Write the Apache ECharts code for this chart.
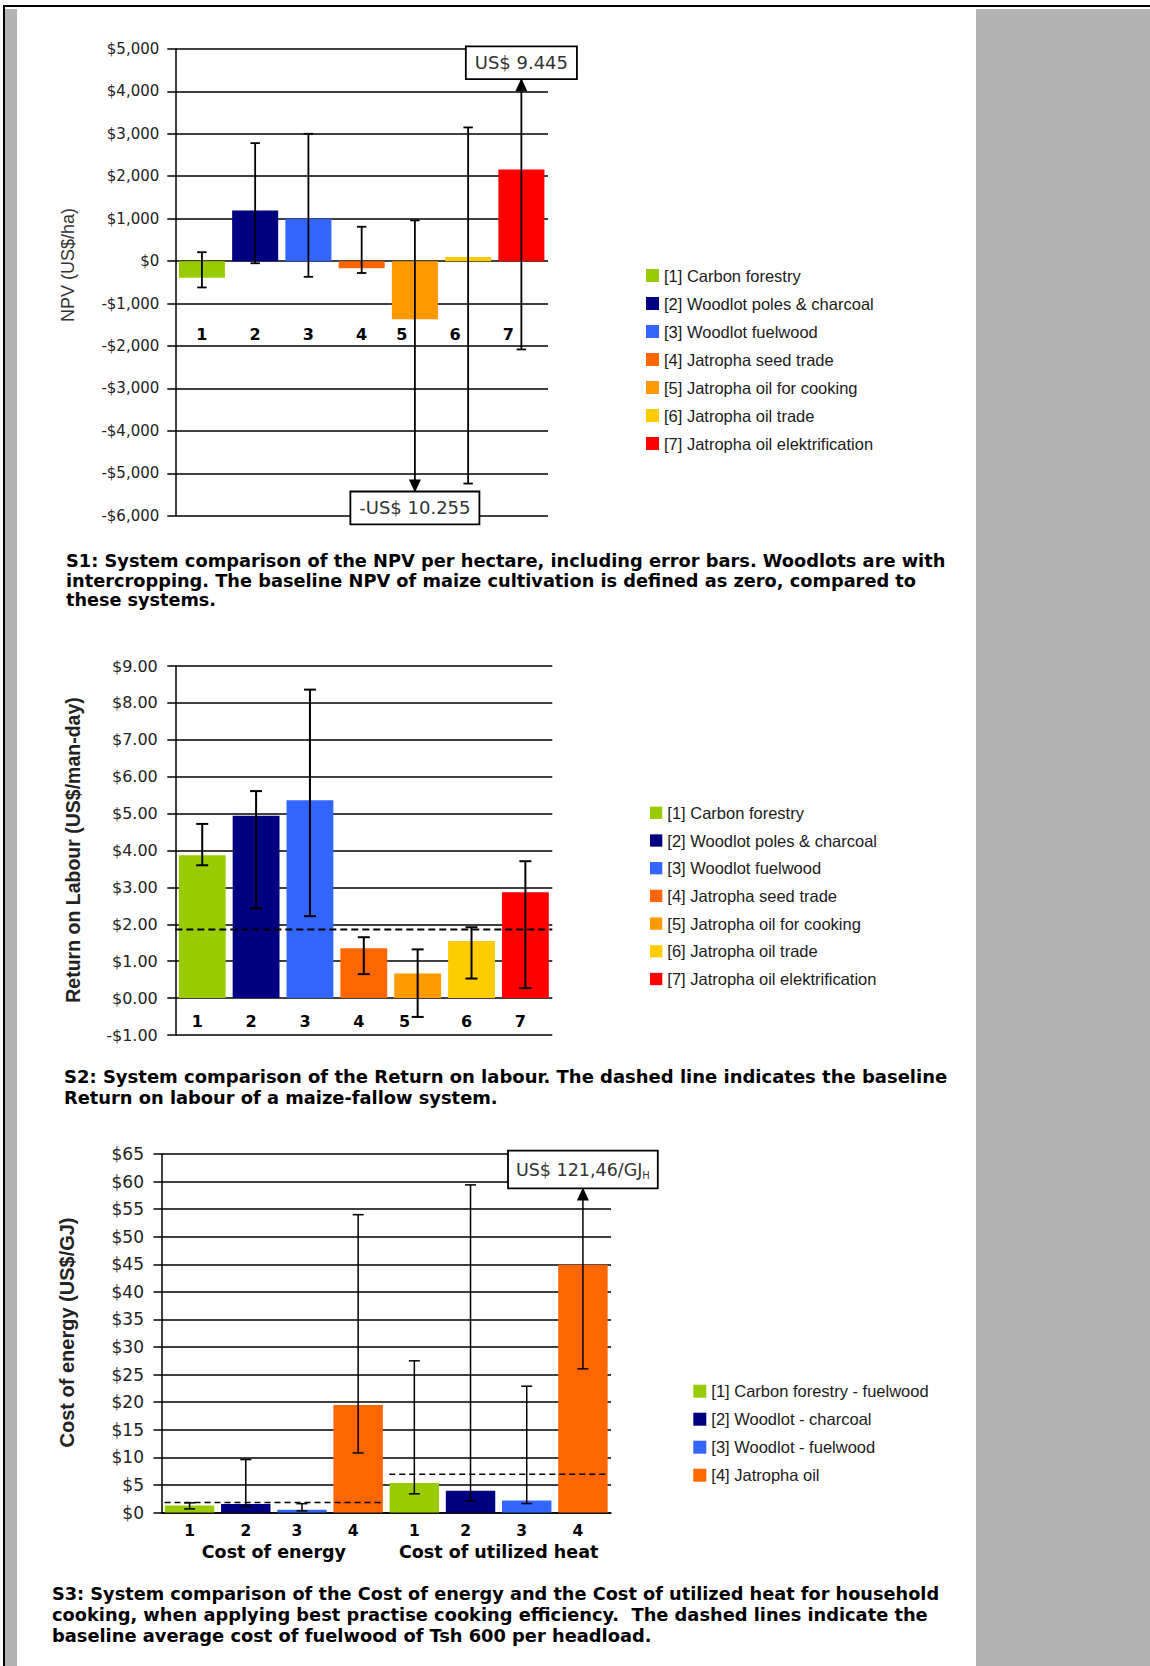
<!DOCTYPE html>
<html>
<head>
<meta charset="utf-8">
<script src="https://cdn.jsdelivr.net/npm/echarts@6/dist/echarts.min.js"></script>
<style>
html,body{margin:0;padding:0;background:#fff;}
#page{position:relative;width:1150px;height:1666px;overflow:hidden;background:#fff;}
.bk{position:absolute;background:#000;}
.gr{position:absolute;background:#b3b3b3;}
#chart{position:absolute;left:0;top:0;width:1150px;height:1666px;}
.cap{position:absolute;white-space:pre;font-family:"DejaVu Sans Condensed","DejaVu Sans",sans-serif;font-weight:bold;font-size:18.5px;line-height:20px;color:#000;transform-origin:0 0;}
</style>
</head>
<body>
<div id="page">
  <div class="bk" style="left:3px;top:5px;width:1147px;height:2px"></div>
  <div class="bk" style="left:3px;top:5px;width:2px;height:1661px"></div>
  <div class="gr" style="left:5px;top:9px;width:12px;height:1657px"></div>
  <div class="gr" style="left:976px;top:9px;width:174px;height:1657px"></div>
  <div id="chart"></div>
</div>
<script>
// ---------- DATA ----------
const npvCategories = ['1', '2', '3', '4', '5', '6', '7'];
const systemNames = ['[1] Carbon forestry', '[2] Woodlot poles & charcoal', '[3] Woodlot fuelwood',
  '[4] Jatropha seed trade', '[5] Jatropha oil for cooking', '[6] Jatropha oil trade',
  '[7] Jatropha oil elektrification'];
const npvValues = [-390, 1190, 1000, -170, -1370, 100, 2160];
const npvErrLow = [-620, -50, -370, -280, -10255, -5240, -2080];
const npvErrHigh = [210, 2780, 3000, 810, 960, 3150, 9445];
const npvAxis = { min: -6000, max: 5000, interval: 1000 };

const rolCategories = ['1', '2', '3', '4', '5', '6', '7'];
const rolValues = [3.87, 4.94, 5.36, 1.35, 0.67, 1.55, 2.87];
const rolErrLow = [3.60, 2.43, 2.22, 0.65, -0.51, 0.53, 0.27];
const rolErrHigh = [4.72, 5.61, 8.36, 1.65, 1.32, 1.92, 3.71];
const rolBaseline = [[0, 6, 1.86]];
const rolAxis = { min: -1, max: 9, interval: 1 };

const coeCategories = ['1', '2', '3', '4', '1', '2', '3', '4'];
const coeGroups = ['Cost of energy', 'Cost of utilized heat'];
const coeNames = ['[1] Carbon forestry - fuelwood', '[2] Woodlot - charcoal', '[3] Woodlot - fuelwood', '[4] Jatropha oil'];
const coeValues = [1.25, 1.55, 0.5, 19.5, 5.34, 3.94, 2.18, 44.9];
const coeErrLow = [0.65, 1.1, 0.3, 10.8, 3.38, 2.1, 1.62, 26.05];
const coeErrHigh = [1.75, 9.6, 1.6, 54.0, 27.5, 59.4, 22.9, 121.46];
const coeBaselines = [[0, 3, 1.8], [4, 7, 6.95]];
const coeAxis = { min: 0, max: 65, interval: 5 };

const systemColors = ['#99cc00', '#000080', '#3366ff', '#ff6600', '#ff9900', '#ffcc00', '#ff0000'];
const coeColors = ['#99cc00', '#000080', '#3366ff', '#ff6600'];

// ---------- CAPTIONS (layout) ----------
const captions = [
  { t: 'S1: System comparison of the NPV per hectare, including error bars. Woodlots are with', x: 65.6, b: 567.3, r: 945 },
  { t: 'intercropping. The baseline NPV of maize cultivation is defined as zero, compared to', x: 65.6, b: 587, r: 915.6 },
  { t: 'these systems.', x: 65.6, b: 606.5, r: 215.6 },
  { t: 'S2: System comparison of the Return on labour. The dashed line indicates the baseline', x: 63.8, b: 1083.2, r: 947 },
  { t: 'Return on labour of a maize-fallow system.', x: 63.8, b: 1104.5, r: 497.4 },
  { t: 'S3: System comparison of the Cost of energy and the Cost of utilized heat for household', x: 52.3, b: 1600, r: 939.4 },
  { t: 'cooking, when applying best practise cooking efficiency.  The dashed lines indicate the', x: 52.3, b: 1621.3, r: 928 },
  { t: 'baseline average cost of fuelwood of Tsh 600 per headload.', x: 52.3, b: 1642.5, r: 651.8 }
];
const page = document.getElementById('page');
captions.forEach(function (c) {
  const d = document.createElement('div');
  d.className = 'cap';
  d.textContent = c.t;
  d.style.left = c.x + 'px';
  d.style.top = (c.b - 16.3) + 'px';
  page.appendChild(d);
  const w = d.getBoundingClientRect().width;
  if (w > 0) d.style.transform = 'scaleX(' + ((c.r - c.x) / w) + ')';
});

// ---------- HELPERS ----------
function thousands(v) { return String(Math.abs(v)).replace(/\B(?=(\d{3})+(?!\d))/g, ','); }
function barSeries(names, colors, values, xIdx, yIdx, gap) {
  return names.map(function (n, k) {
    return {
      name: n, type: 'bar', xAxisIndex: xIdx, yAxisIndex: yIdx,
      barGap: '-100%', barCategoryGap: gap, silent: true, z: 2,
      itemStyle: { color: colors[k] },
      data: values.map(function (v, i) { return (i % names.length === k) ? v : '-'; })
    };
  });
}
function errRender(o) {
  return function (params, api) {
    const i = api.value(0), lo = api.value(1), hi = api.value(2);
    const cs = params.coordSys;
    const top = cs.y, bot = cs.y + cs.height;
    const x = api.coord([i, 0])[0];
    let yHi = api.coord([i, hi])[1], yLo = api.coord([i, lo])[1];
    const up = yHi < top - 0.5, down = yLo > bot + 0.5;
    if (up) yHi = top + o.upTip;
    if (down) yLo = bot - o.downTip;
    const ls = { stroke: '#000', lineWidth: o.lw };
    const ch = [{ type: 'line', shape: { x1: x, y1: yLo, x2: x, y2: yHi }, style: ls }];
    if (!up) ch.push({ type: 'line', shape: { x1: x - o.cap, y1: yHi, x2: x + o.cap, y2: yHi }, style: ls });
    if (!down) ch.push({ type: 'line', shape: { x1: x - o.cap, y1: yLo, x2: x + o.cap, y2: yLo }, style: ls });
    function box(y, va, txt) {
      return {
        type: 'text', x: x, y: y, z2: 10,
        style: Object.assign({
          text: txt, align: 'center', verticalAlign: va, fill: '#333',
          fontFamily: 'DejaVu Sans', fontSize: o.fs, lineHeight: o.lh,
          backgroundColor: '#fff', borderColor: '#000', borderWidth: 1.8, padding: o.pad
        }, o.rich ? { rich: o.rich } : {})
      };
    }
    if (up) {
      ch.push({ type: 'polygon', shape: { points: [[x, yHi], [x - 6, yHi + 13], [x + 6, yHi + 13]] }, style: { fill: '#000' } });
      ch.push(box(yHi, 'bottom', o.label(hi)));
    }
    if (down) {
      ch.push({ type: 'polygon', shape: { points: [[x, yLo], [x - 6, yLo - 13], [x + 6, yLo - 13]] }, style: { fill: '#000' } });
      ch.push(box(yLo, 'top', o.label(lo)));
    }
    return { type: 'group', children: ch };
  };
}
function baseRender(inset, lw, dash) {
  return function (params, api) {
    const s = api.value(0), e = api.value(1), v = api.value(2);
    const bw = api.size([1, 0])[0];
    const p1 = api.coord([s, v]), p2 = api.coord([e, v]);
    return {
      type: 'line',
      shape: { x1: p1[0] - bw / 2 + inset, y1: p1[1], x2: p2[0] + bw / 2 - inset, y2: p2[1] },
      style: { stroke: '#000', lineWidth: lw, lineDash: dash }
    };
  };
}
function valueAxis(gridIndex, ax, fs, margin, fmt) {
  return {
    gridIndex: gridIndex, type: 'value', min: ax.min, max: ax.max, interval: ax.interval,
    axisLine: { show: true, lineStyle: { color: '#000', width: 1.5 } },
    axisTick: { show: true, inside: false, length: 8, lineStyle: { color: '#000', width: 1.5 } },
    splitLine: { show: true, lineStyle: { color: '#000', width: 1.5 } },
    axisLabel: { margin: margin, fontFamily: 'DejaVu Sans', fontSize: fs, color: '#222', formatter: fmt }
  };
}
// nudge: label style keys per category index ('s' = small left nudge, 'l' = large left nudge)
function catAxis(gridIndex, data, offset, margin, fs, nudge) {
  return {
    gridIndex: gridIndex, type: 'category', data: data, position: 'bottom', offset: offset,
    axisLine: { show: false, onZero: false },
    axisTick: { show: false }, splitLine: { show: false },
    axisLabel: {
      interval: 0, margin: margin, fontFamily: 'DejaVu Sans', fontWeight: 'bold', fontSize: fs, color: '#000',
      formatter: function (v, i) { const k = nudge && nudge[i]; return k ? '{' + k + '|' + v + '}' : v; },
      rich: {
        s: { fontFamily: 'DejaVu Sans', fontWeight: 'bold', fontSize: fs, color: '#000', padding: [0, 10, 0, 0] },
        l: { fontFamily: 'DejaVu Sans', fontWeight: 'bold', fontSize: fs, color: '#000', padding: [0, 26, 0, 0] }
      }
    }
  };
}
function legend(names, left, top, size, gap) {
  return {
    data: names, orient: 'vertical', left: left, top: top, padding: 0,
    itemWidth: size, itemHeight: size, itemGap: gap, icon: 'rect', selectedMode: false,
    textStyle: { fontFamily: 'Liberation Sans', fontSize: 16.5, color: '#1a1a1a', lineHeight: 16 }
  };
}

// ---------- CHART ----------
const grids = [
  { left: 175.3, top: 48.9, width: 372.7, height: 466.9 },
  { left: 175.3, top: 666, width: 377, height: 369 },
  { left: 161.5, top: 1154, width: 449.5, height: 358.5 }
];
// distance from the bottom of a grid up to its zero line (layout helper)
function zeroLift(g, ax) { return g.height * (0 - ax.min) / (ax.max - ax.min); }

const chart = echarts.init(document.getElementById('chart'), null, { renderer: 'svg', width: 1150, height: 1666 });
const series = []
  .concat(barSeries(systemNames, systemColors, npvValues, 0, 0, '13.5%'))
  .concat(barSeries(systemNames, systemColors, rolValues, 1, 1, '13%'))
  .concat(barSeries(coeNames, coeColors, coeValues, 2, 2, '12%'));
series.push({
  type: 'custom', xAxisIndex: 0, yAxisIndex: 0, z: 5, clip: false, silent: true,
  encode: { x: 0, y: [1, 2] },
  data: npvErrLow.map(function (lo, i) { return [i, lo, npvErrHigh[i]]; }),
  renderItem: errRender({
    lw: 1.8, cap: 4.7, upTip: 29.4, downTip: 23.4, fs: 18, lh: 21, pad: [5, 8],
    label: function (v) { return (v < 0 ? '-' : '') + 'US$ ' + String(Math.abs(v)).replace(/\B(?=(\d{3})+(?!\d))/g, '.'); }
  })
});
series.push({
  type: 'custom', xAxisIndex: 1, yAxisIndex: 1, z: 4, clip: false, silent: true,
  encode: { x: [0, 1], y: 2 }, data: rolBaseline, renderItem: baseRender(0, 2, [7, 4])
});
series.push({
  type: 'custom', xAxisIndex: 1, yAxisIndex: 1, z: 5, clip: false, silent: true,
  encode: { x: 0, y: [1, 2] },
  data: rolErrLow.map(function (lo, i) { return [i, lo, rolErrHigh[i]]; }),
  renderItem: errRender({ lw: 2, cap: 6, upTip: 30, downTip: 24, fs: 18, lh: 21, pad: [5, 8], label: String })
});
series.push({
  type: 'custom', xAxisIndex: 2, yAxisIndex: 2, z: 4, clip: false, silent: true,
  encode: { x: [0, 1], y: 2 }, data: coeBaselines, renderItem: baseRender(3, 1.5, [6, 4])
});
series.push({
  type: 'custom', xAxisIndex: 2, yAxisIndex: 2, z: 5, clip: false, silent: true,
  encode: { x: 0, y: [1, 2] },
  data: coeErrLow.map(function (lo, i) { return [i, lo, coeErrHigh[i]]; }),
  renderItem: errRender({
    lw: 1.5, cap: 5.5, upTip: 33.5, downTip: 24, fs: 17.5, lh: 22, pad: [7, 7],
    rich: {
      a: { fontFamily: 'DejaVu Sans', fontSize: 17.5, fill: '#333', lineHeight: 22, verticalAlign: 'middle' },
      s: { fontFamily: 'DejaVu Sans', fontSize: 10, fill: '#333', lineHeight: 22, verticalAlign: 'bottom' }
    },
    label: function (v) { return '{a|US$ ' + String(v).replace('.', ',') + '/GJ}{s|H}'; }
  })
});

const z0 = zeroLift(grids[0], npvAxis), z1 = zeroLift(grids[1], rolAxis);
const coeX = catAxis(2, coeCategories, 0, 10, 15.5, { 2: 's', 3: 's', 5: 's', 6: 's', 7: 's' });
coeX.axisLine = { show: true, onZero: false, lineStyle: { color: '#000', width: 1.5 } };

chart.setOption({
  animation: false,
  backgroundColor: 'transparent',
  grid: grids.map(function (g) { return Object.assign({ containLabel: false, outerBoundsMode: 'none' }, g); }),
  xAxis: [
    catAxis(0, npvCategories, -z0, 64.9, 16, { 4: 'l', 5: 'l', 6: 'l' }),
    catAxis(1, rolCategories, -z1, 14.9, 16, { 0: 's', 1: 's', 2: 's', 3: 's', 4: 'l', 5: 's', 6: 's' }),
    coeX,
    catAxis(2, coeGroups, 0, 30.5, 17.5)
  ],
  yAxis: [
    valueAxis(0, npvAxis, 15, 16, function (v) { return (v < 0 ? '-$' : '$') + thousands(v); }),
    valueAxis(1, rolAxis, 16, 17.5, function (v) { return (v < 0 ? '-$' : '$') + Math.abs(v).toFixed(2); }),
    valueAxis(2, coeAxis, 17, 17.5, function (v) { return '$' + v; })
  ],
  legend: [
    legend(systemNames, 646, 267, 13, 11),
    legend(systemNames, 650, 804.3, 12.3, 10.7),
    legend(coeNames, 693.3, 1382.7, 13, 11)
  ],
  graphic: [
    { type: 'text', x: 68.3, y: 265, rotation: Math.PI / 2, silent: true,
      style: { text: 'NPV (US$/ha)', fontFamily: 'Liberation Sans', fontSize: 18, fill: '#333', align: 'center', verticalAlign: 'middle' } },
    { type: 'text', x: 72.7, y: 850, rotation: Math.PI / 2, silent: true,
      style: { text: 'Return on Labour (US$/man-day)', fontFamily: 'Liberation Sans', fontWeight: 'bold', fontSize: 19.5, fill: '#222', align: 'center', verticalAlign: 'middle' } },
    { type: 'text', x: 66.7, y: 1332.5, rotation: Math.PI / 2, silent: true,
      style: { text: 'Cost of energy (US$/GJ)', fontFamily: 'Liberation Sans', fontWeight: 'bold', fontSize: 20, fill: '#222', align: 'center', verticalAlign: 'middle' } }
  ],
  series: series
});
</script>
</body>
</html>
